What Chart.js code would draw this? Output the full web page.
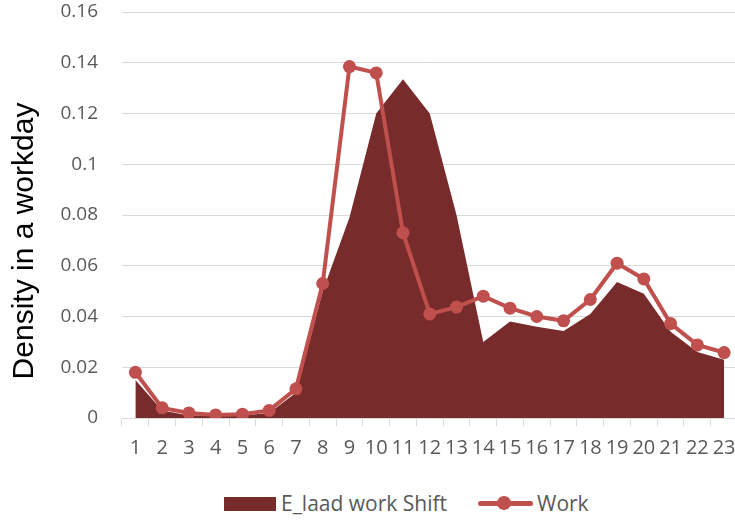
<!DOCTYPE html>
<html>
<head>
<meta charset="utf-8">
<script src="https://cdn.jsdelivr.net/npm/chart.js@4"></script>
<style>
  body { margin: 0; background: #fff; overflow: hidden; }
  #wrap { position: relative; width: 735px; height: 520px; overflow: hidden; }
  #chartBox { position: absolute; left: 0; top: 0; width: 744px; height: 475px; }
  #yTitle {
    position: absolute; left: -127px; top: 223px; width: 300px; height: 36px;
    line-height: 36px; text-align: center; transform: rotate(-90deg);
    font-family: "Liberation Sans", Arial, sans-serif; font-size: 30px; color: #000;
  }
  .leg { position: absolute; font-family: "Open Sans", sans-serif; font-size: 21px; color: #595959; line-height: 22px; }
  .legBox { position: absolute; left: 224px; top: 497px; width: 52px; height: 14px; background: #772B2B; }
  .legLine { position: absolute; left: 478px; top: 501px; width: 55px; height: 5px; background: #C0504D; border-radius: 3px; }
  .legDot { position: absolute; left: 497px; top: 496px; width: 14px; height: 14px; background: #C0504D; border-radius: 50%; }
</style>
</head>
<body>
<div id="wrap">
  <div id="chartBox"><canvas id="chart"></canvas></div>
  <div id="yTitle">Density in a workday</div>
  <div class="legBox"></div>
  <div class="leg" style="left:281px; top:492px;">E_laad work Shift</div>
  <div class="legLine"></div>
  <div class="legDot"></div>
  <div class="leg" style="left:537px; top:492px;">Work</div>
</div>
<script>
// kategori jam
const hours = ['1','2','3','4','5','6','7','8','9','10','11','12','13','14','15','16','17','18','19','20','21','22','23'];

// nilai seri
const shiftValues = [0.015, 0.003, 0.001, 0.001, 0.001, 0.002, 0.010, 0.050, 0.079, 0.120, 0.1335, 0.120, 0.080, 0.030,
  0.038, 0.036, 0.0343, 0.041, 0.0536, 0.049, 0.034, 0.026, 0.023];
const workValues = [0.018, 0.004, 0.002, 0.0012, 0.0015, 0.003, 0.0115, 0.053, 0.1385, 0.136, 0.073, 0.041, 0.0437, 0.048,
  0.0433, 0.040, 0.0383, 0.0467, 0.061, 0.0548, 0.0372, 0.0288, 0.0258];

// tick sumbu Y
const yTicks = [0, 0.02, 0.04, 0.06, 0.08, 0.1, 0.12, 0.14, 0.16];

const ctx = document.getElementById('chart');

new Chart(ctx, {
    type: 'line',
    data: {
        labels: hours,
        datasets: [
            {
                label: 'E_laad work Shift',
                data: shiftValues,
                fill: 'origin',
                backgroundColor: '#772B2B',
                borderColor: '#772B2B',
                borderWidth: 0,
                pointRadius: 0,
                tension: 0,
                order: 2
            },
            {
                label: 'Work',
                data: workValues,
                fill: false,
                borderColor: '#C0504D',
                backgroundColor: '#C0504D',
                borderWidth: 4,
                pointRadius: 6.5,
                pointBorderWidth: 0,
                pointBackgroundColor: '#C0504D',
                tension: 0,
                order: 1
            }
        ]
    },
    options: {
        responsive: true,
        maintainAspectRatio: false,
        animation: false,
        layout: { padding: { top: 12, right: 0, left: 0, bottom: 0 } },
        plugins: {
            legend: { display: false },
            tooltip: { enabled: false }
        },
        scales: {
            x: {
                offset: true,
                grid: { offset: true, drawOnChartArea: false, drawTicks: true, tickLength: 8, color: '#D9D9D9', lineWidth: 1 },
                border: { color: '#D9D9D9', width: 1 },
                ticks: { color: '#595959', font: { family: 'Open Sans', size: 20 }, padding: 10, autoSkip: false, maxRotation: 0 },
                afterFit: (scale) => {
                    scale.height = 57;
                    scale.paddingLeft = 0;
                    scale.paddingRight = 0;
                }
            },
            y: {
                min: 0,
                max: 0.16,
                afterBuildTicks: (scale) => { scale.ticks = yTicks.map(v => ({ value: v })); },
                grid: { color: '#D9D9D9', lineWidth: 1, drawTicks: false },
                border: { display: false },
                ticks: { color: '#595959', font: { family: 'Open Sans', size: 19 }, padding: 24,
                    callback: (v) => String(Math.round(v * 100) / 100) },
                afterFit: (scale) => {
                    scale.width = 122;
                    scale.paddingTop = 0;
                    scale.paddingBottom = 0;
                }
            }
        }
    }
});
</script>
</body>
</html>
